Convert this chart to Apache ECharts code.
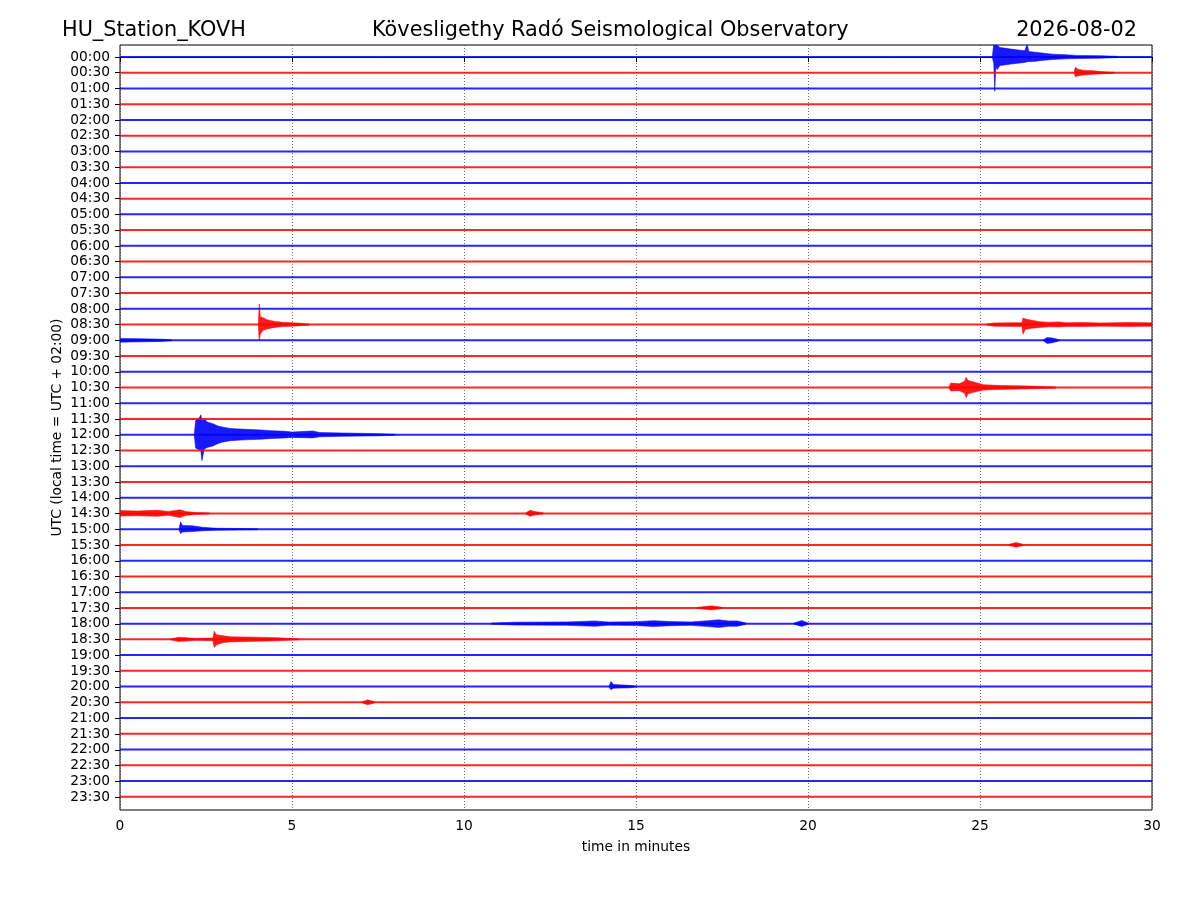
<!DOCTYPE html>
<html lang="en">
<head>
    <meta charset="UTF-8">
    <title>KOVH helicorder</title>
    <script type="text/javascript" src="https://cdn.jsdelivr.net/npm/echarts@6/dist/echarts.min.js"></script>
    <style>
        body { margin: 0; background: #fff; }
    </style>
</head>
<body>
<div id="main" style="width: 1200px;height:900px"></div>

<script type="text/javascript">
    // row labels, one trace per half hour, top to bottom
    var rowLabels = [];
    for (var h = 0; h < 24; h++) {
        var hh = (h < 10 ? '0' : '') + h;
        rowLabels.push(hh + ':00');
        rowLabels.push(hh + ':30');
    }
    var traceColors = ['#0000ff', '#ff0000'];   // alternating blue / red
    var xTicks = [0, 5, 10, 15, 20, 25, 30];

    // events: [minute, amplitude up, amplitude down] (in trace spacings)
    var ev0000 = [[25.36,0.05,0.05],[25.40,0.8,0.4],[25.43,0.8,2.19],[25.46,0.8,0.6],[25.5,0.75,0.8],[25.58,0.6,0.55],
        [25.75,0.55,0.5],[25.9,0.5,0.45],[26.1,0.45,0.4],[26.3,0.4,0.35],[26.37,0.8,0.3],[26.42,0.35,0.3],[26.6,0.3,0.28],
        [26.8,0.25,0.22],[27.1,0.18,0.16],[27.5,0.14,0.12],[27.8,0.1,0.1],[28.5,0.08,0.08],[29.0,0.04,0.04]];
    var ev0030 = [[27.74,0.05,0.05],[27.77,0.34,0.25],[27.85,0.22,0.2],[28.0,0.16,0.14],[28.3,0.12,0.1],[28.6,0.06,0.06],[28.9,0.03,0.03]];
    var ev0830a = [[4.02,0.05,0.05],[4.05,1.31,1.02],[4.08,0.5,0.6],[4.15,0.45,0.38],[4.27,0.3,0.28],[4.5,0.2,0.18],
        [4.74,0.14,0.13],[5.15,0.1,0.09],[5.5,0.04,0.04]];
    var ev0830b = [[25.2,0.04,0.04],[25.4,0.1,0.1],[26.0,0.12,0.12],[26.22,0.12,0.12],[26.25,0.41,0.61],[26.32,0.35,0.3],
        [26.5,0.28,0.24],[26.74,0.18,0.18],[27.0,0.15,0.14],[27.3,0.17,0.15],[27.5,0.12,0.12],[28.0,0.13,0.12],[28.5,0.1,0.1],
        [29.3,0.13,0.12],[30,0.11,0.11]];
    var ev0900a = [[0,0.12,0.12],[0.6,0.1,0.1],[1.2,0.07,0.07],[1.5,0.03,0.03]];
    var ev0900b = [[26.85,0.04,0.04],[26.95,0.18,0.2],[27.1,0.15,0.16],[27.3,0.04,0.04]];
    var ev1030 = [[24.1,0.05,0.05],[24.15,0.28,0.22],[24.4,0.24,0.2],[24.55,0.4,0.35],[24.6,0.65,0.65],[24.65,0.45,0.4],
        [24.9,0.3,0.26],[25.1,0.18,0.16],[25.6,0.13,0.12],[26.5,0.09,0.08],[27.2,0.04,0.04]];
    var ev1200 = [[2.16,0.05,0.05],[2.2,0.9,0.85],[2.3,1.05,0.95],[2.35,1.27,1.0],[2.38,0.9,1.65],[2.45,1.0,0.9],
        [2.55,0.8,0.8],[2.7,0.7,0.72],[2.85,0.55,0.55],[3.0,0.48,0.46],[3.2,0.4,0.38],[3.5,0.36,0.34],[3.8,0.33,0.31],
        [4.1,0.3,0.28],[4.4,0.26,0.24],[4.8,0.22,0.2],[5.0,0.17,0.17],[5.6,0.24,0.2],[5.8,0.14,0.13],[6.5,0.11,0.1],
        [7.5,0.07,0.07],[8.0,0.03,0.03]];
    var ev1430a = [[0,0.18,0.16],[0.5,0.16,0.15],[1.1,0.2,0.18],[1.4,0.13,0.12],[1.75,0.23,0.26],[1.9,0.13,0.13],
        [2.2,0.06,0.06],[2.6,0.03,0.03]];
    var ev1430b = [[11.8,0.04,0.04],[11.92,0.2,0.18],[12.05,0.13,0.1],[12.3,0.04,0.04]];
    var ev1500 = [[1.72,0.05,0.05],[1.76,0.47,0.28],[1.82,0.23,0.18],[2.1,0.22,0.15],[2.4,0.12,0.1],[2.8,0.06,0.06],[4.0,0.03,0.03]];
    var ev1530 = [[25.85,0.04,0.04],[26.05,0.15,0.15],[26.25,0.04,0.04]];
    var ev1730 = [[16.8,0.04,0.04],[17.2,0.13,0.13],[17.5,0.04,0.04]];
    var ev1800a = [[10.8,0.04,0.04],[11.5,0.09,0.09],[13.0,0.11,0.11],[13.8,0.17,0.17],[14.2,0.1,0.1],[15.0,0.12,0.12],
        [15.5,0.19,0.19],[16.0,0.13,0.13],[16.6,0.11,0.11],[17.1,0.19,0.19],[17.4,0.24,0.24],[17.7,0.17,0.17],
        [17.95,0.17,0.17],[18.2,0.04,0.04]];
    var ev1800b = [[19.6,0.04,0.04],[19.82,0.2,0.18],[20.0,0.04,0.04]];
    var ev1830 = [[1.5,0.04,0.04],[1.7,0.13,0.13],[1.95,0.1,0.1],[2.2,0.06,0.06],[2.7,0.08,0.08],[2.74,0.51,0.51],
        [2.8,0.3,0.35],[3.0,0.23,0.2],[3.2,0.16,0.16],[4.0,0.14,0.12],[4.6,0.1,0.09],[5.2,0.03,0.03]];
    var ev2000 = [[14.22,0.04,0.04],[14.27,0.32,0.2],[14.35,0.13,0.1],[14.8,0.08,0.08],[15.0,0.03,0.03]];
    var ev2030 = [[7.05,0.04,0.04],[7.2,0.16,0.16],[7.4,0.04,0.04]];

    // which trace row each event belongs to
    var eventRows = [0, 1, 17, 17, 18, 18, 21, 24, 29, 29, 30, 31, 35, 36, 36, 37, 40, 41];
    var eventShapes = [ev0000, ev0030, ev0830a, ev0830b, ev0900a, ev0900b, ev1030, ev1200, ev1430a, ev1430b,
        ev1500, ev1530, ev1730, ev1800a, ev1800b, ev1830, ev2000, ev2030];

    var chartDom = document.getElementById('main');
    var myChart = echarts.init(chartDom);

    var series = [];
    for (var i = 0; i < rowLabels.length; i++) {
        series.push({
            type: 'line',
            xAxisIndex: 0,
            yAxisIndex: 0,
            data: [[0, i], [30, i]],
            symbol: 'none',
            silent: true,
            lineStyle: { color: traceColors[i % 2], width: 2, opacity: 0.85 }
        });
    }
    eventShapes.forEach(function (shape, k) {
        var row = eventRows[k];
        series.push({
            type: 'custom',
            xAxisIndex: 0,
            yAxisIndex: 0,
            silent: true,
            data: [row],
            renderItem: function (params, api) {
                var pts = [];
                for (var j = 0; j < shape.length; j++) pts.push(api.coord([shape[j][0], row - shape[j][1]]));
                for (var j = shape.length - 1; j >= 0; j--) pts.push(api.coord([shape[j][0], row + shape[j][2]]));
                var cs = params.coordSys;
                return {
                    type: 'polygon',
                    shape: { points: pts },
                    style: { fill: traceColors[row % 2], stroke: traceColors[row % 2], lineWidth: 0.6, opacity: 0.9 },
                    clipPath: { type: 'rect', shape: { x: cs.x, y: cs.y, width: cs.width, height: cs.height } }
                };
            }
        });
    });

    var titleStyle = { fontSize: 20.8, fontWeight: 'normal', color: '#000', fontFamily: 'DejaVu Sans' };
    var option = {
        animation: false,
        textStyle: { fontFamily: 'DejaVu Sans' },
        title: [
            { text: 'HU_Station_KOVH', left: 62, top: 20, padding: 0, textStyle: titleStyle },
            { text: 'Kövesligethy Radó Seismological Observatory', left: 372, top: 20, padding: 0, textStyle: titleStyle },
            { text: '2026-08-02', right: 63, top: 20, padding: 0, textStyle: titleStyle }
        ],
        graphic: [{
            type: 'text', x: 57, y: 427.5, rotation: Math.PI / 2,
            style: { text: 'UTC (local time = UTC + 02:00)', fontSize: 13.8, fontFamily: 'DejaVu Sans', fill: '#000',
                align: 'center', verticalAlign: 'middle' }
        }],
        grid: [
            { left: 120, right: 48, top: 45, bottom: 90, show: true, borderColor: '#000', borderWidth: 1, backgroundColor: 'transparent' },
            { left: 120, right: 48, top: 49.13, bottom: 95.13 }
        ],
        xAxis: [
            {
                gridIndex: 0, type: 'value', min: 0, max: 30, interval: 5,
                name: 'time in minutes', nameLocation: 'middle', nameGap: 30,
                nameTextStyle: { fontSize: 13.8, color: '#000' },
                axisLine: { show: true, lineStyle: { color: '#000' } },
                axisTick: { show: true, length: 5, lineStyle: { color: '#000' } },
                axisLabel: { fontSize: 13.8, color: '#000', margin: 9, formatter: function (v) { return xTicks.indexOf(v) >= 0 ? String(v) : ''; } },
                splitLine: { show: true, lineStyle: { color: '#444', width: 0.8, type: [1, 2] } }
            },
            { gridIndex: 1, type: 'value', min: 0, max: 30, show: false }
        ],
        yAxis: [
            {
                gridIndex: 0, type: 'value', inverse: true, min: -0.76, max: 47.84,
                axisLine: { show: false }, axisTick: { show: false }, axisLabel: { show: false }, splitLine: { show: false }
            },
            {
                gridIndex: 1, type: 'category', inverse: true, data: rowLabels, boundaryGap: true,
                axisLine: { show: false },
                axisTick: { show: true, alignWithLabel: true, length: 5, lineStyle: { color: '#000' } },
                axisLabel: { fontSize: 13.8, color: '#000', margin: 10, interval: 0 },
                splitLine: { show: false }
            }
        ],
        series: series
    };

    option && myChart.setOption(option);
</script>
</body>
</html>
